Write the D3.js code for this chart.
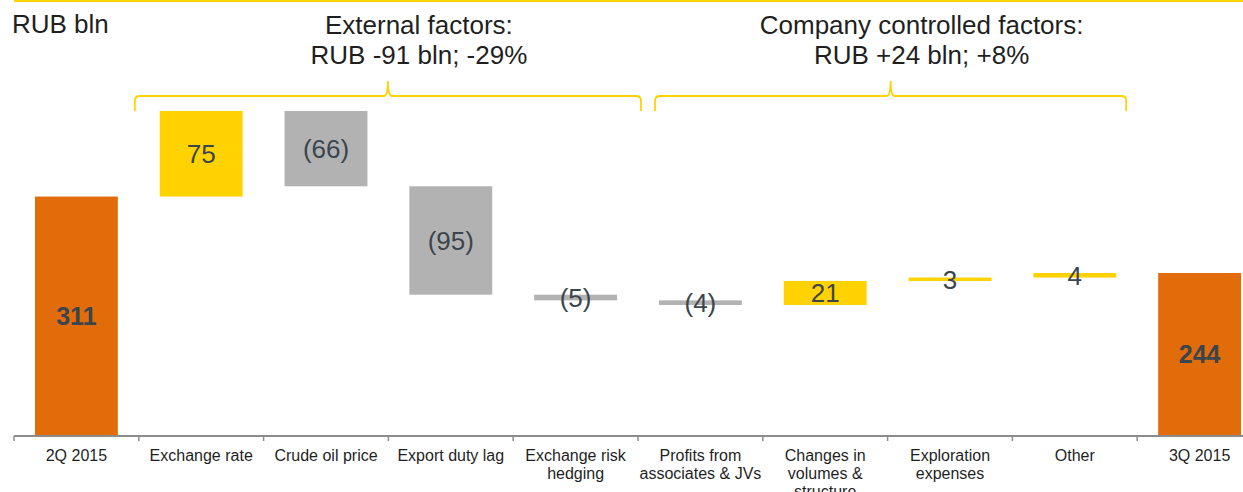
<!DOCTYPE html>
<html>
<head>
<meta charset="utf-8">
<script src="https://cdn.jsdelivr.net/npm/d3@7"></script>
<style>
  html, body { margin: 0; padding: 0; background: #fff; }
  svg { display: block; font-family: Arial, "Liberation Sans", sans-serif; }
</style>
</head>
<body>
<svg id="chart" width="1243" height="492"></svg>
<script>
// ---------- data ----------
const categories = ["2Q 2015", "Exchange rate", "Crude oil price", "Export duty lag",
  "Exchange risk hedging", "Profits from associates & JVs", "Changes in volumes & structure",
  "Exploration expenses", "Other", "3Q 2015"];
const tickLabels = [["2Q 2015"], ["Exchange rate"], ["Crude oil price"], ["Export duty lag"],
  ["Exchange risk", "hedging"], ["Profits from", "associates & JVs"], ["Changes in", "volumes &", "structure"],
  ["Exploration", "expenses"], ["Other"], ["3Q 2015"]];
const values = [311, 75, -66, -95, -5, -4, 21, 3, 4, 244];
const barTypes = ["total", "delta", "delta", "delta", "delta", "delta", "delta", "delta", "delta", "total"];
const valueLabels = ["311", "75", "(66)", "(95)", "(5)", "(4)", "21", "3", "4", "244"];
const unitLabel = "RUB bln";
const groupTitles = [["External factors:", "RUB -91 bln; -29%"], ["Company controlled factors:", "RUB +24 bln; +8%"]];
const groupFirst = ["Exchange rate", "Profits from associates & JVs"];
const groupLast = ["Exchange risk hedging", "Other"];
const yDomain = [102, 386];

// ---------- layout ----------
const svg = d3.select("#chart");
const ORANGE = "#E36C0A", YELLOW = "#FFD200", GRAY = "#B2B2B2";
const TEXT = "#1f1f1f", LABEL = "#3a454d";

const slot = d3.scaleBand().domain(categories).range([14, 1262]).padding(0);
const x = d3.scaleBand().domain(categories).range([14, 1262]).paddingInner(0.336).paddingOuter(0.168);
const y = d3.scaleLinear().domain(yDomain).range([435, 111]);

// waterfall computation
let running = 0;
const bars = categories.map((c, i) => {
  let lo, hi, color;
  if (barTypes[i] === "total") {
    lo = yDomain[0]; hi = values[i]; running = values[i]; color = ORANGE;
  } else {
    const start = running, end = running + values[i];
    lo = Math.min(start, end); hi = Math.max(start, end); running = end;
    color = values[i] >= 0 ? YELLOW : GRAY;
  }
  return { c, lo, hi, color, label: valueLabels[i], total: barTypes[i] === "total" };
});

// top line
svg.append("rect").attr("x", 14).attr("y", 0).attr("width", 1243 - 14).attr("height", 2).attr("fill", YELLOW);

// unit label
svg.append("text").attr("x", 12).attr("y", 33).attr("font-size", 26).attr("fill", TEXT).text(unitLabel);

// bars
svg.append("g").selectAll("rect").data(bars).join("rect")
  .attr("x", d => x(d.c)).attr("width", x.bandwidth())
  .attr("y", d => y(d.hi)).attr("height", d => Math.max(1, y(d.lo) - y(d.hi)))
  .attr("fill", d => d.color);

// value labels
svg.append("g").selectAll("text").data(bars).join("text")
  .attr("x", d => x(d.c) + x.bandwidth() / 2)
  .attr("y", d => (y(d.lo) + y(d.hi)) / 2)
  .attr("dy", "0.36em")
  .attr("text-anchor", "middle")
  .attr("font-size", d => d.total ? 25 : 26)
  .attr("font-weight", d => d.total ? "bold" : "normal")
  .attr("fill", LABEL)
  .text(d => d.label);

// axis
const axisY = 436;
const ax = svg.append("g");
ax.append("line").attr("x1", slot.range()[0]).attr("x2", slot.range()[1])
  .attr("y1", axisY).attr("y2", axisY).attr("stroke", "#8c8c8c").attr("stroke-width", 2);
const tickXs = categories.map(c => slot(c)).concat([slot.range()[1]]);
ax.selectAll("line.tick").data(tickXs).join("line").attr("class", "tick")
  .attr("x1", d => d).attr("x2", d => d).attr("y1", axisY).attr("y2", axisY + 5)
  .attr("stroke", "#8c8c8c").attr("stroke-width", 1.5);
const lbl = ax.selectAll("text").data(categories).join("text")
  .attr("text-anchor", "middle").attr("font-size", 16).attr("fill", TEXT)
  .attr("transform", d => `translate(${slot(d) + slot.bandwidth() / 2},461)`);
lbl.each(function (d, i) {
  d3.select(this).selectAll("tspan").data(tickLabels[i]).join("tspan")
    .attr("x", 0).attr("y", (t, j) => j * 18).text(t => t);
});

// braces and group titles
groupTitles.forEach((lines, g) => {
  const bw = slot.bandwidth();
  const x0 = g === 0 ? slot(groupFirst[g]) - 4 : slot(groupFirst[g]) + 17;
  const x1 = g === 0 ? slot(groupLast[g]) + bw + 3 : slot(groupLast[g]) + bw - 11;
  const xm = (x0 + x1) / 2;
  const yb = 111, yh = 96, yp = 81, r = 5;
  const p = d3.path();
  p.moveTo(x0, yb);
  p.lineTo(x0, yh + r);
  p.quadraticCurveTo(x0, yh, x0 + r, yh);
  p.lineTo(xm - 4, yh);
  p.quadraticCurveTo(xm, yh, xm, yp);
  p.quadraticCurveTo(xm, yh, xm + 4, yh);
  p.lineTo(x1 - r, yh);
  p.quadraticCurveTo(x1, yh, x1, yh + r);
  p.lineTo(x1, yb);
  svg.append("path").attr("d", p.toString()).attr("fill", "none")
    .attr("stroke", YELLOW).attr("stroke-width", 1.8);
  const t = svg.append("text").attr("text-anchor", "middle").attr("font-size", 26).attr("fill", TEXT)
    .attr("transform", `translate(${xm + 31},34)`);
  t.selectAll("tspan").data(lines).join("tspan").attr("x", 0).attr("y", (s, j) => j * 30).text(s => s);
});
</script>
</body>
</html>
